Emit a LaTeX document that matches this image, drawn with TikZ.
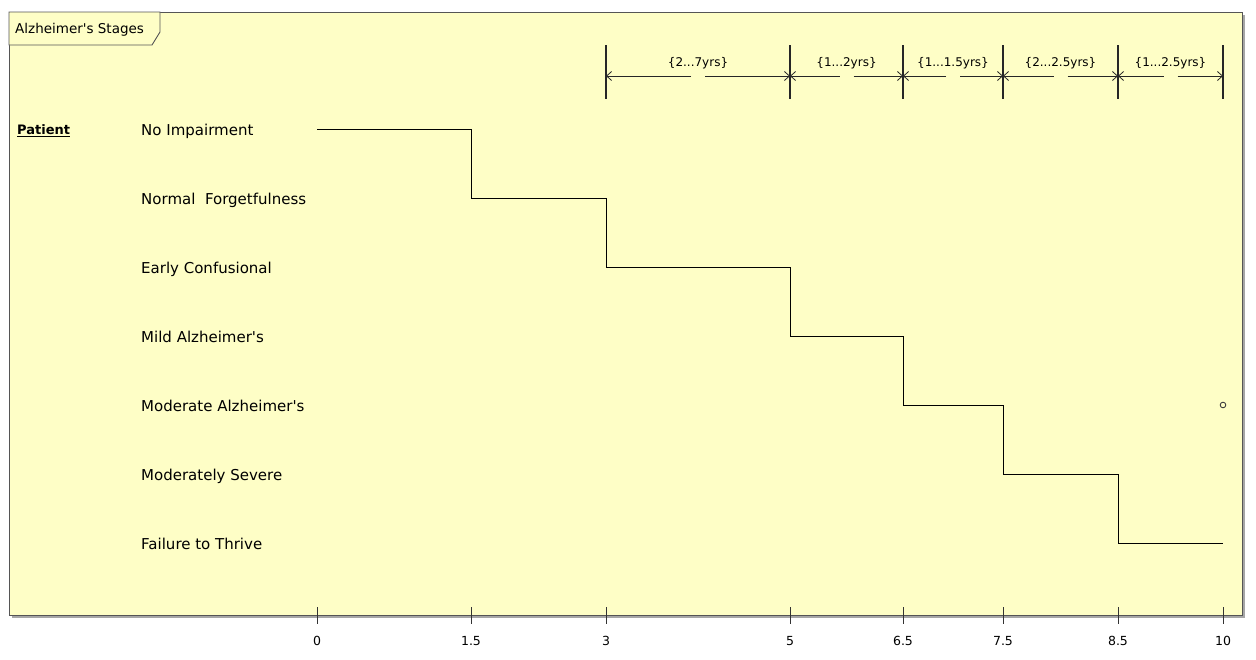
\documentclass[tikz,border=0pt]{standalone}
\usepackage{fontspec}
\setmainfont{DejaVu Sans}
\usetikzlibrary{arrows.meta}
\definecolor{bgy}{HTML}{FEFEC6}
\definecolor{frm}{HTML}{555555}
\newcommand{\apos}{\textquotesingle}
\tikzset{
  lbl/.style={anchor=base west, inner sep=0pt, font=\fontsize{15}{17}\selectfont},
  axlbl/.style={anchor=base, inner sep=0pt, font=\fontsize{12.5}{14}\selectfont},
  dimlbl/.style={anchor=base, inner sep=0pt, font=\fontsize{12}{14}\selectfont},
  stepline/.style={draw=black, line width=1pt},
  dimtick/.style={draw=black!85, line width=1.1pt},
  dimarrow/.style={draw=black!85, line width=0.8pt, -{Straight Barb[length=5pt,width=9pt]}},
  axtick/.style={draw=black!80, line width=0.9pt},
}
\begin{document}
\begin{tikzpicture}[x=1pt,y=-1pt]
\useasboundingbox (0,0) rectangle (1256,659);
\fill[white] (0,0) rectangle (1256,659);
% shadow and frame
\fill[black!35] (12,15) rectangle (1245,618);
\draw[fill=bgy, draw=frm, line width=0.9pt] (9,12) rectangle (1242,615);
% title tab
\draw[fill=bgy, draw=frm, line width=0.9pt] (9,12) -- (160,12) -- (160,32) -- (152,45) -- (9,45) -- cycle;
\node[anchor=base west, inner sep=0pt, font=\fontsize{13.5}{16}\selectfont] (title) at (15,33.5) {Alzheimer\apos s Stages};

% lifeline name
\node[anchor=base west, inner sep=0pt, font=\fontsize{13}{16}\selectfont\bfseries] (patient) at (17,134.5) {\underline{Patient}};

% state labels
\node[lbl] (s1) at (141,135.5) {No Impairment};
\node[lbl] (s2) at (141,204.5) {Normal\ \ Forgetfulness};
\node[lbl] (s3) at (141,273.5) {Early Confusional};
\node[lbl] (s4) at (141,342.5) {Mild Alzheimer\apos s};
\node[lbl] (s5) at (141,411.5) {Moderate Alzheimer\apos s};
\node[lbl] (s6) at (141,480.5) {Moderately Severe};
\node[lbl] (s7) at (141,549.5) {Failure to Thrive};

% step path coordinates
\coordinate (p0) at (317,129);
\coordinate (p1a) at (471,129);
\coordinate (p1b) at (471,198);
\coordinate (p2a) at (606,198);
\coordinate (p2b) at (606,267);
\coordinate (p3a) at (790,267);
\coordinate (p3b) at (790,336);
\coordinate (p4a) at (903,336);
\coordinate (p4b) at (903,405);
\coordinate (p5a) at (1003,405);
\coordinate (p5b) at (1003,474);
\coordinate (p6a) at (1118,474);
\coordinate (p6b) at (1118,543);
\coordinate (p7) at (1223,543);
\draw[stepline] (p0) -- (p1a) -- (p1b) -- (p2a) -- (p2b) -- (p3a) -- (p3b) -- (p4a) -- (p4b) -- (p5a) -- (p5b) -- (p6a) -- (p6b) -- (p7);

% end marker
\draw[draw=black!75, line width=0.9pt, fill=bgy] (1223,405) circle (2.8);

% duration constraints
\foreach \x/\n in {606/a,790/b,903/c,1003/d,1118/e,1223/f}{
  \coordinate (dt\n) at (\x,45);
  \coordinate (db\n) at (\x,99);
  \coordinate (dm\n) at (\x,76);
  \draw[dimtick] (dt\n) -- (db\n);
}
\foreach \a/\b/\xa/\xb/\t in {a/b/606/790/{\{2...7yrs\}}, b/c/790/903/{\{1...2yrs\}}, c/d/903/1003/{\{1...1.5yrs\}}, d/e/1003/1118/{\{2...2.5yrs\}}, e/f/1118/1223/{\{1...2.5yrs\}}}{
  \pgfmathsetmacro{\mid}{(\xa+\xb)/2}
  \coordinate (gl\a) at ({\mid-7},76);
  \coordinate (gr\a) at ({\mid+7},76);
  \draw[dimarrow] (gl\a) -- (dm\a);
  \draw[dimarrow] (gr\a) -- (dm\b);
  \node[dimlbl] (dl\a) at (\mid,66.5) {\t};
}

% time axis
\foreach \x/\v/\n in {317/0/t0,471/1.5/t1,606/3/t2,790/5/t3,903/6.5/t4,1003/7.5/t5,1118/8.5/t6,1223/10/t7}{
  \coordinate (\n a) at (\x,607);
  \coordinate (\n b) at (\x,624);
  \draw[axtick] (\n a) -- (\n b);
  \node[axlbl] (\n) at (\x,645) {\v};
}
\end{tikzpicture}
\end{document}
